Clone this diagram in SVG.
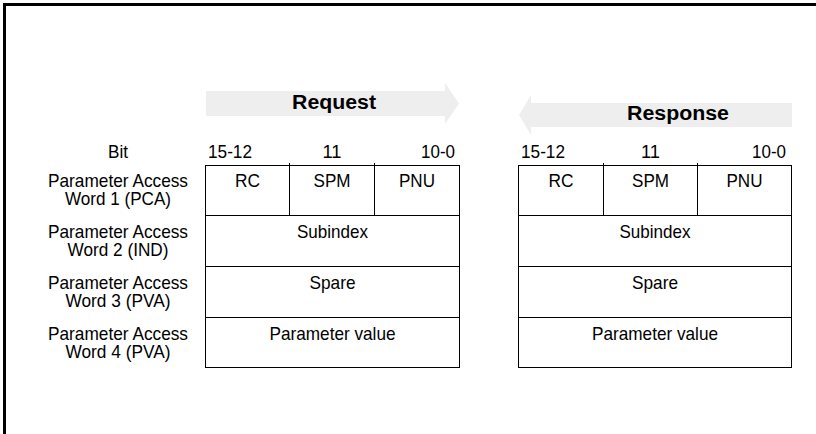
<svg xmlns="http://www.w3.org/2000/svg" width="816" height="434" viewBox="0 0 816 434">
  <style>
    .t { font-family: "Liberation Sans", Arial, sans-serif; font-size: 19px; fill: #000; }
    .m { text-anchor: middle; }
    .e { text-anchor: end; }
    .b { font-family: "Liberation Sans", Arial, sans-serif; font-size: 20px; font-weight: bold; fill: #000; text-anchor: middle; }
    .cell { fill: #fff; stroke: #000; stroke-width: 1; }
    .ln { stroke: #000; stroke-width: 1; fill: none; }
    .arrow { fill: #eeeeee; stroke: none; }
  </style>

  <g id="frame">
    <path d="M4.5 434 V4.5 H816" fill="none" stroke="#000" stroke-width="3"/>
  </g>

  <g id="arrow-request">
    <polygon class="arrow" points="206,91 445,91 445,83 459,103.5 445,124 445,116 206,116"/>
    <text class="b" x="334" y="109" textLength="84" lengthAdjust="spacingAndGlyphs">Request</text>
  </g>

  <g id="arrow-response">
    <polygon class="arrow" points="792,103 531,103 531,95 519,115 531,135 531,127 792,127"/>
    <text class="b" x="678" y="120" textLength="102" lengthAdjust="spacingAndGlyphs">Response</text>
  </g>

  <g id="row-labels">
    <text class="t m" x="118" y="158" textLength="20" lengthAdjust="spacingAndGlyphs">Bit</text>
    <text class="t m" x="118" y="187" textLength="140" lengthAdjust="spacingAndGlyphs">Parameter Access</text>
    <text class="t m" x="118" y="205" textLength="106" lengthAdjust="spacingAndGlyphs">Word 1 (PCA)</text>
    <text class="t m" x="118" y="238" textLength="140" lengthAdjust="spacingAndGlyphs">Parameter Access</text>
    <text class="t m" x="118" y="256" textLength="101" lengthAdjust="spacingAndGlyphs">Word 2 (IND)</text>
    <text class="t m" x="118" y="289" textLength="140" lengthAdjust="spacingAndGlyphs">Parameter Access</text>
    <text class="t m" x="118" y="307" textLength="105" lengthAdjust="spacingAndGlyphs">Word 3 (PVA)</text>
    <text class="t m" x="118" y="339.5" textLength="140" lengthAdjust="spacingAndGlyphs">Parameter Access</text>
    <text class="t m" x="118" y="357.5" textLength="105" lengthAdjust="spacingAndGlyphs">Word 4 (PVA)</text>
  </g>

  <g id="table-request">
    <text class="t" x="208" y="158" textLength="44" lengthAdjust="spacingAndGlyphs">15-12</text>
    <text class="t m" x="332" y="158" textLength="19" lengthAdjust="spacingAndGlyphs">11</text>
    <text class="t e" x="455" y="158" textLength="34" lengthAdjust="spacingAndGlyphs">10-0</text>
    <rect class="cell" x="205.5" y="165.5" width="254" height="202"/>
    <line class="ln" x1="289.5" y1="163" x2="289.5" y2="215.5"/>
    <line class="ln" x1="374.5" y1="163" x2="374.5" y2="215.5"/>
    <line class="ln" x1="205.5" y1="215.5" x2="459.5" y2="215.5"/>
    <line class="ln" x1="205.5" y1="266.5" x2="459.5" y2="266.5"/>
    <line class="ln" x1="205.5" y1="317.5" x2="459.5" y2="317.5"/>
    <text class="t m" x="247.5" y="187" textLength="25" lengthAdjust="spacingAndGlyphs">RC</text>
    <text class="t m" x="332" y="187" textLength="37" lengthAdjust="spacingAndGlyphs">SPM</text>
    <text class="t m" x="417" y="187" textLength="36" lengthAdjust="spacingAndGlyphs">PNU</text>
    <text class="t m" x="332.5" y="238" textLength="71" lengthAdjust="spacingAndGlyphs">Subindex</text>
    <text class="t m" x="332.5" y="289" textLength="46" lengthAdjust="spacingAndGlyphs">Spare</text>
    <text class="t m" x="332.5" y="339.5" textLength="126" lengthAdjust="spacingAndGlyphs">Parameter value</text>
  </g>

  <g id="table-response">
    <text class="t" x="521" y="158" textLength="44" lengthAdjust="spacingAndGlyphs">15-12</text>
    <text class="t m" x="650.5" y="158" textLength="19" lengthAdjust="spacingAndGlyphs">11</text>
    <text class="t e" x="786" y="158" textLength="34" lengthAdjust="spacingAndGlyphs">10-0</text>
    <rect class="cell" x="518.5" y="165.5" width="273" height="202"/>
    <line class="ln" x1="603.5" y1="163" x2="603.5" y2="215.5"/>
    <line class="ln" x1="697.5" y1="163" x2="697.5" y2="215.5"/>
    <line class="ln" x1="518.5" y1="215.5" x2="791.5" y2="215.5"/>
    <line class="ln" x1="518.5" y1="266.5" x2="791.5" y2="266.5"/>
    <line class="ln" x1="518.5" y1="317.5" x2="791.5" y2="317.5"/>
    <text class="t m" x="561" y="187" textLength="25" lengthAdjust="spacingAndGlyphs">RC</text>
    <text class="t m" x="650.5" y="187" textLength="37" lengthAdjust="spacingAndGlyphs">SPM</text>
    <text class="t m" x="744.5" y="187" textLength="36" lengthAdjust="spacingAndGlyphs">PNU</text>
    <text class="t m" x="655" y="238" textLength="71" lengthAdjust="spacingAndGlyphs">Subindex</text>
    <text class="t m" x="655" y="289" textLength="46" lengthAdjust="spacingAndGlyphs">Spare</text>
    <text class="t m" x="655" y="339.5" textLength="126" lengthAdjust="spacingAndGlyphs">Parameter value</text>
  </g>
</svg>
